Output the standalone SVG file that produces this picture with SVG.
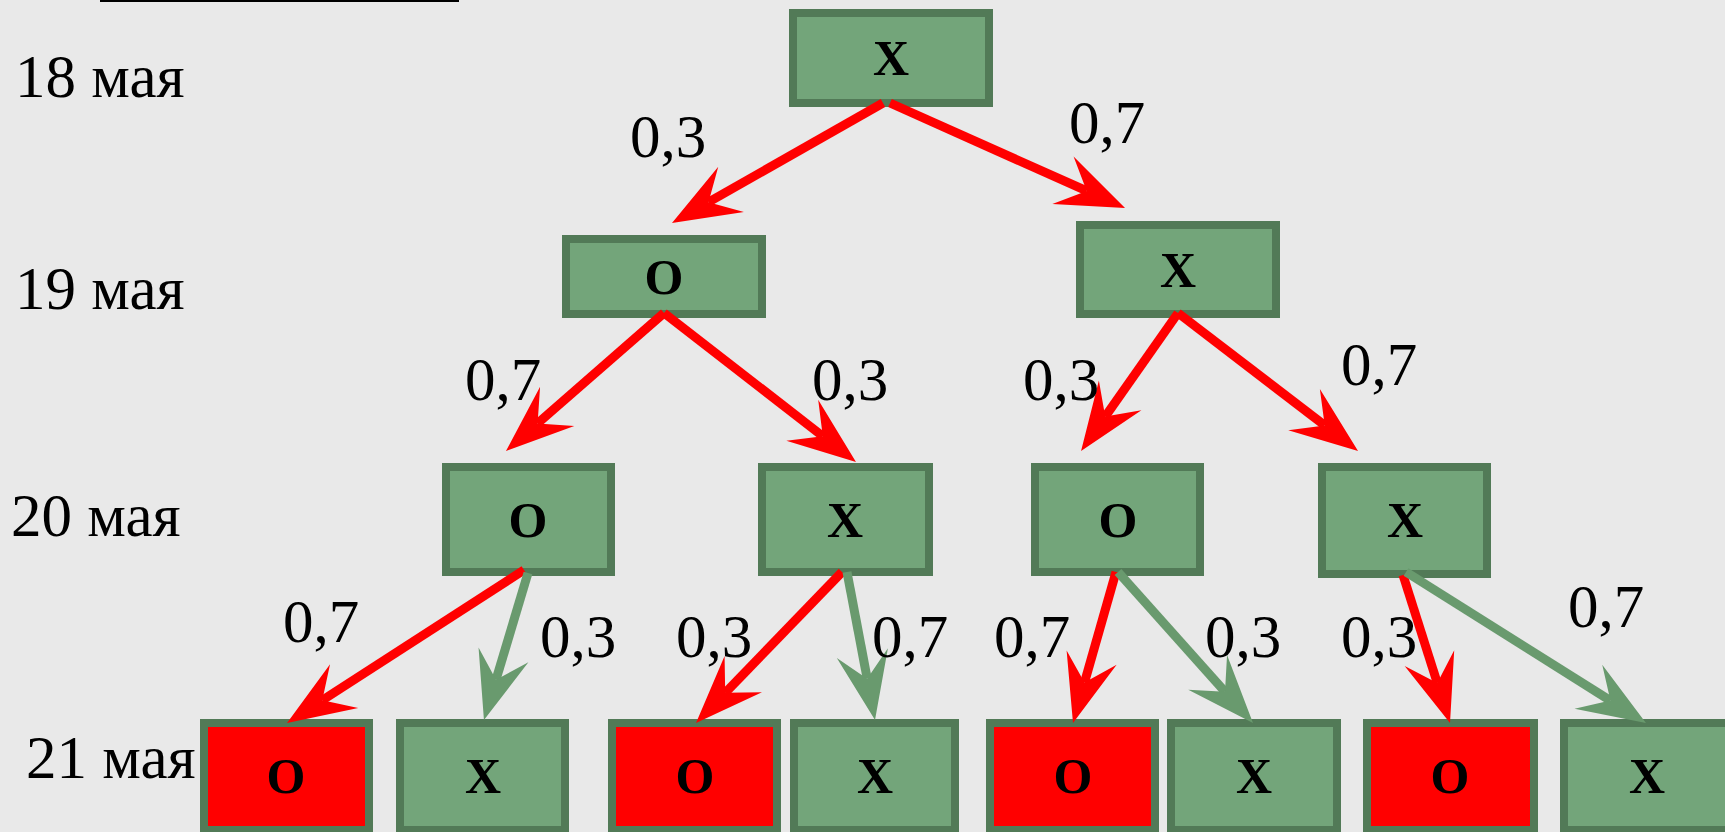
<svg xmlns="http://www.w3.org/2000/svg" width="1725" height="832" viewBox="0 0 1725 832">
<defs>
<style>
.bg{fill:#e9e9e9}
.box{fill:#73a57a;stroke:#527a57;stroke-width:8}
.red{fill:#ff0000;stroke:#527a57;stroke-width:8}
.nt{font-family:"Liberation Serif","Times New Roman",serif;font-weight:bold;font-size:50px;fill:#000;text-anchor:middle}
.lbl{font-family:"Liberation Serif","Times New Roman",serif;font-size:61px;fill:#000}
.ar{stroke:#ff0000;stroke-width:9;fill:none;marker-end:url(#hr)}
.ag{stroke:#699a6e;stroke-width:9;fill:none;marker-end:url(#hg)}
</style>
<marker id="hr" markerUnits="userSpaceOnUse" markerWidth="70" markerHeight="54" refX="26" refY="26" orient="auto" overflow="visible">
<path d="M68,26 L0,0 L26,26 L0,52 Z" fill="#ff0000"/>
</marker>
<marker id="hg" markerUnits="userSpaceOnUse" markerWidth="70" markerHeight="54" refX="26" refY="26" orient="auto" overflow="visible">
<path d="M68,26 L0,0 L26,26 L0,52 Z" fill="#699a6e"/>
</marker>
</defs>
<rect class="bg" x="0" y="0" width="1725" height="832"/>
<rect x="100" y="0" width="359" height="2" fill="#000"/>
<g id="dates">
<text class="lbl" x="15" y="97">18 мая</text>
<text class="lbl" x="15" y="309">19 мая</text>
<text class="lbl" x="11" y="536">20 мая</text>
<text class="lbl" x="26" y="778">21 мая</text>
</g>
<g id="n18"><rect class="box" x="793" y="13" width="196" height="90"/><text class="nt" x="891" y="75">X</text></g>
<g id="n19o"><rect class="box" x="566" y="239" width="196" height="75"/><text class="nt" x="664" y="294">O</text></g>
<g id="n19x"><rect class="box" x="1080" y="225" width="196" height="89"/><text class="nt" x="1178" y="287">X</text></g>
<g id="n20o1"><rect class="box" x="446" y="467" width="165" height="105"/><text class="nt" x="528" y="537">O</text></g>
<g id="n20x1"><rect class="box" x="762" y="467" width="167" height="105"/><text class="nt" x="845" y="537">X</text></g>
<g id="n20o2"><rect class="box" x="1035" y="467" width="165" height="105"/><text class="nt" x="1118" y="537">O</text></g>
<g id="n20x2"><rect class="box" x="1322" y="467" width="165" height="107"/><text class="nt" x="1405" y="537">X</text></g>
<g id="n21o1"><rect class="red" x="204" y="723" width="165" height="107"/><text class="nt" x="286" y="793">O</text></g>
<g id="n21x1"><rect class="box" x="400" y="723" width="165" height="107"/><text class="nt" x="483" y="793">X</text></g>
<g id="n21o2"><rect class="red" x="612" y="723" width="165" height="107"/><text class="nt" x="695" y="793">O</text></g>
<g id="n21x2"><rect class="box" x="794" y="723" width="161" height="107"/><text class="nt" x="875" y="793">X</text></g>
<g id="n21o3"><rect class="red" x="990" y="723" width="165" height="107"/><text class="nt" x="1073" y="793">O</text></g>
<g id="n21x3"><rect class="box" x="1171" y="723" width="166" height="107"/><text class="nt" x="1254" y="793">X</text></g>
<g id="n21o4"><rect class="red" x="1367" y="723" width="167" height="107"/><text class="nt" x="1450" y="793">O</text></g>
<g id="n21x4"><rect class="box" x="1564" y="723" width="166" height="107"/><text class="nt" x="1647" y="793">X</text></g>
<g id="connectors">
<line class="ar" x1="883" y1="103" x2="708.5" y2="202.2"/>
<line class="ar" x1="890" y1="103" x2="1086.7" y2="190.9"/>
<line class="ar" x1="664" y1="313" x2="537.6" y2="423.4"/>
<line class="ar" x1="664" y1="313" x2="822.8" y2="436.2"/>
<line class="ar" x1="1178" y1="313" x2="1105.2" y2="416.6"/>
<line class="ar" x1="1178" y1="313" x2="1324.7" y2="425.4"/>
<line class="ar" x1="524" y1="570" x2="322.3" y2="700.2"/>
<line class="ag" x1="528" y1="573" x2="496" y2="679.8"/>
<line class="ar" x1="842" y1="572" x2="725.2" y2="692.8"/>
<line class="ag" x1="847" y1="572" x2="867.2" y2="678.7"/>
<line class="ar" x1="1116" y1="572" x2="1084.5" y2="682.6"/>
<line class="ag" x1="1118" y1="572" x2="1225" y2="691.7"/>
<line class="ar" x1="1403" y1="575" x2="1437.3" y2="683"/>
<line class="ag" x1="1406" y1="572" x2="1610.4" y2="700.6"/>
</g>
<g id="labels">
<text class="lbl" x="630" y="157">0,3</text>
<text class="lbl" x="1069" y="143">0,7</text>
<text class="lbl" x="465" y="400">0,7</text>
<text class="lbl" x="812" y="400">0,3</text>
<text class="lbl" x="1023" y="400">0,3</text>
<text class="lbl" x="1341" y="385">0,7</text>
<text class="lbl" x="283" y="642">0,7</text>
<text class="lbl" x="540" y="657">0,3</text>
<text class="lbl" x="676" y="657">0,3</text>
<text class="lbl" x="872" y="657">0,7</text>
<text class="lbl" x="994" y="657">0,7</text>
<text class="lbl" x="1205" y="657">0,3</text>
<text class="lbl" x="1341" y="657">0,3</text>
<text class="lbl" x="1568" y="627">0,7</text>
</g>
</svg>
